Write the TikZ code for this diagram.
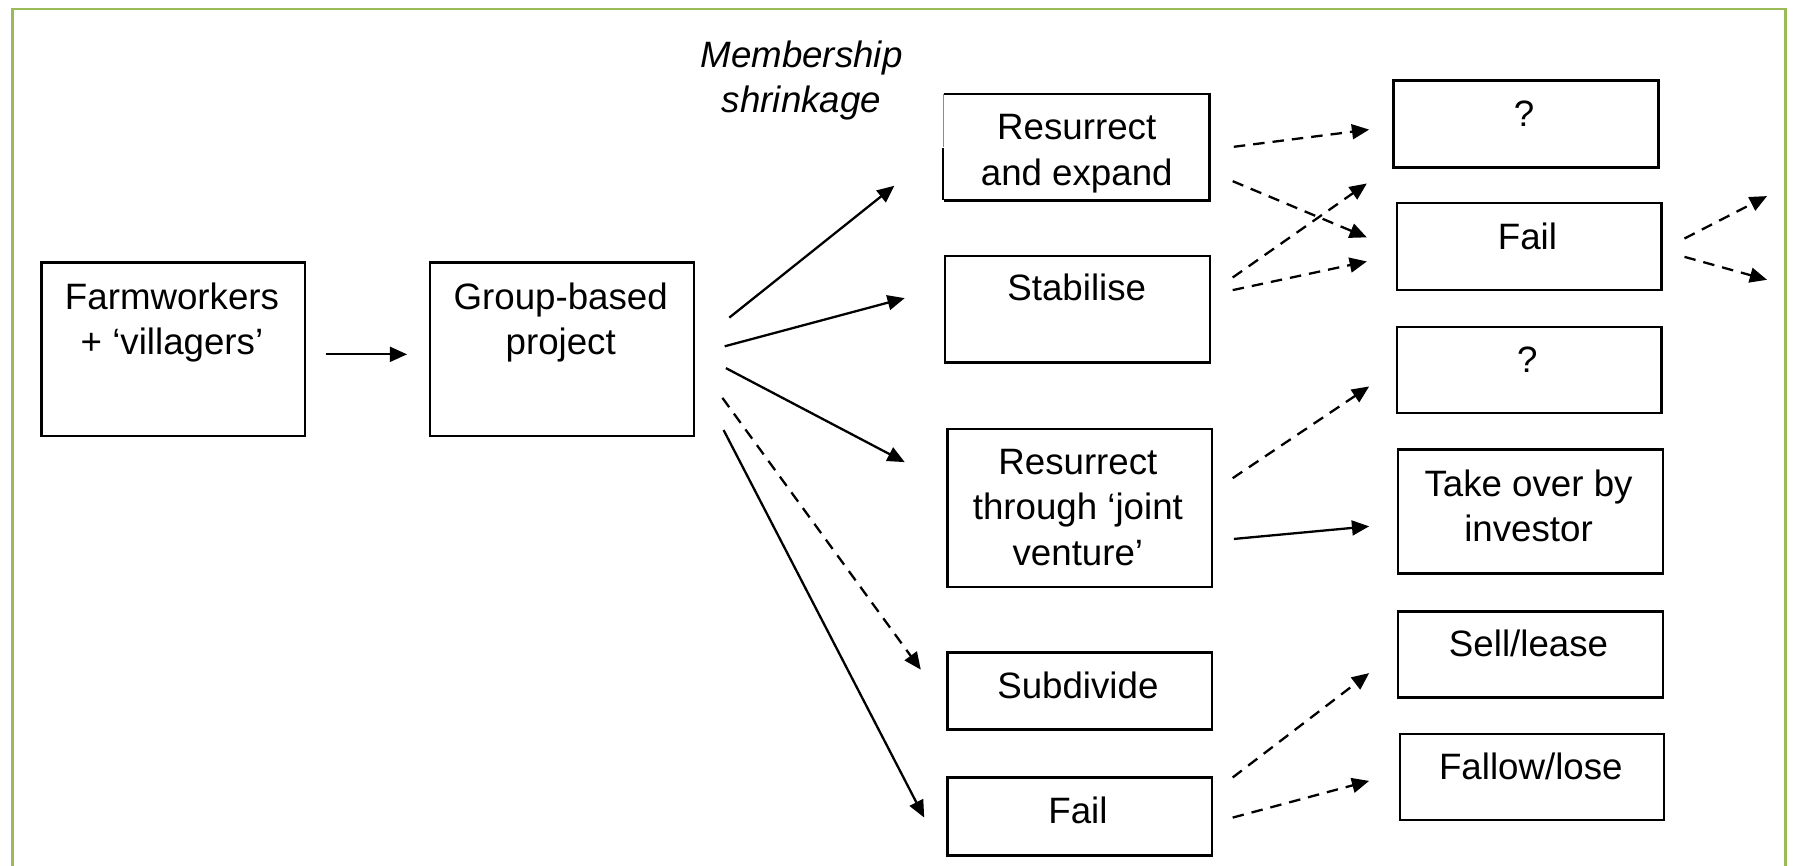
\documentclass[tikz,border=0pt]{standalone}
\usepackage{fontspec}
\setmainfont{Liberation Sans}
\usetikzlibrary{arrows.meta,calc}
\definecolor{framegreen}{RGB}{155,187,89}
\begin{document}
\begin{tikzpicture}[x=0.5pt,y=-0.5pt,
  box/.style={draw,line width=1.1pt,inner sep=0pt,anchor=north west},
  nobox/.style={inner sep=0pt,anchor=north west},
  lbl/.style={font=\fontsize{16}{19.8}\selectfont,align=center,inner sep=0pt},
  ilbl/.style={lbl,font=\fontsize{16}{19.8}\selectfont\itshape},
  arr/.style={line width=1pt,-{Triangle[length=7.5pt,width=6.5pt]}},
  dsh/.style={arr,dash pattern=on 5pt off 3.5pt}]
\useasboundingbox (0,0) rectangle (1568,755);
\clip (0,0) rectangle (1568,755);
\draw[framegreen,line width=1.1pt] (11,8) rectangle (1557,800);

% first column
\node[box,minimum width=115pt,minimum height=75.5pt] (fw) at (35,228) {};
\node[lbl] (fwt) at (150,281) {Farmworkers\\+ ‘villagers’};
\node[box,minimum width=115pt,minimum height=75.5pt] (gp) at (374,228) {};
\node[lbl] (gpt) at (489,281) {Group-based\\project};

\node[ilbl] (ms) at (699,70) {Membership\\shrinkage};

% second column
\node[nobox,minimum width=115.5pt,minimum height=46pt] (re) at (823,82) {};
\draw[line width=1.1pt] (re.south west) ++(-0.5,0) coordinate (reA) -- ++(0,-46) coordinate (reB);
\draw[line width=0.4pt,black!45] (re.north west) -- ($(re.north west)!0.5!(re.south west)$) coordinate (reC);
\draw[line width=1.1pt] (re.north west) -- (re.north east) -- (re.south east) -- (re.south west);
\node[lbl] (ret) at (939,134) {Resurrect\\and expand};

\node[box,minimum width=115.5pt,minimum height=46.5pt] (st) at (823,222) {};
\node[lbl] (stt) at (939,251) {Stabilise};

\node[box,minimum width=115.5pt,minimum height=69pt] (jv) at (825,373) {};
\node[lbl] (jvt) at (940,442.5) {Resurrect\\through ‘joint\\venture’};

\node[box,minimum width=115.5pt,minimum height=33.5pt] (sd) at (825,568) {};
\node[lbl] (sdt) at (940,598) {Subdivide};

\node[box,minimum width=115.5pt,minimum height=34pt] (fb) at (825,677) {};
\node[lbl] (fbt) at (940,707) {Fail};

% third column
\node[box,minimum width=115.5pt,minimum height=38pt] (q1) at (1214,69) {};
\node[lbl] (q1t) at (1329,99) {?};
\node[box,minimum width=115.5pt,minimum height=38pt] (fr) at (1217,176) {};
\node[lbl] (frt) at (1332,206) {Fail};
\node[box,minimum width=115.5pt,minimum height=37.5pt] (q2) at (1217,284) {};
\node[lbl] (q2t) at (1332,314) {?};
\node[box,minimum width=115.5pt,minimum height=54pt] (to) at (1218,391) {};
\node[lbl] (tot) at (1333,441) {Take over by\\investor};
\node[box,minimum width=115.5pt,minimum height=37.5pt] (sl) at (1218,532) {};
\node[lbl] (slt) at (1333,561) {Sell/lease};
\node[box,minimum width=115pt,minimum height=37.5pt] (fl) at (1220,639) {};
\node[lbl] (flt) at (1335,668) {Fallow/lose};

% connector end points
\coordinate (a1s) at (284,309);  \coordinate (a1e) at (355,309);
\coordinate (b1s) at (636,277);  \coordinate (b1e) at (780,162);
\coordinate (b2s) at (632,302);  \coordinate (b2e) at (789,260);
\coordinate (b3s) at (633,321);  \coordinate (b3e) at (789,403);
\coordinate (b4s) at (630,347);  \coordinate (b4e) at (803,584);
\coordinate (b5s) at (631,375);  \coordinate (b5e) at (806,713);
\coordinate (c1s) at (1076,128); \coordinate (c1e) at (1194,113);
\coordinate (c2s) at (1075,158); \coordinate (c2e) at (1192,207);
\coordinate (c3s) at (1075,242); \coordinate (c3e) at (1192,160);
\coordinate (c4s) at (1075,253); \coordinate (c4e) at (1192,228);
\coordinate (d1s) at (1469,208); \coordinate (d1e) at (1541,171);
\coordinate (d2s) at (1469,224); \coordinate (d2e) at (1541,244);
\coordinate (c5s) at (1075,417); \coordinate (c5e) at (1194,337);
\coordinate (c6s) at (1076,470); \coordinate (c6e) at (1194,459);
\coordinate (c7s) at (1075,678); \coordinate (c7e) at (1194,587);
\coordinate (c8s) at (1075,713); \coordinate (c8e) at (1194,681);

\draw[arr] (a1s) -- (a1e);
\draw[arr] (b1s) -- (b1e);
\draw[arr] (b2s) -- (b2e);
\draw[arr] (b3s) -- (b3e);
\draw[dsh] (b4s) -- (b4e);
\draw[arr] (b5s) -- (b5e);
\draw[dsh] (c1s) -- (c1e);
\draw[dsh] (c2s) -- (c2e);
\draw[dsh] (c3s) -- (c3e);
\draw[dsh] (c4s) -- (c4e);
\draw[dsh] (d1s) -- (d1e);
\draw[dsh] (d2s) -- (d2e);
\draw[dsh] (c5s) -- (c5e);
\draw[arr] (c6s) -- (c6e);
\draw[dsh] (c7s) -- (c7e);
\draw[dsh] (c8s) -- (c8e);
\end{tikzpicture}
\end{document}
